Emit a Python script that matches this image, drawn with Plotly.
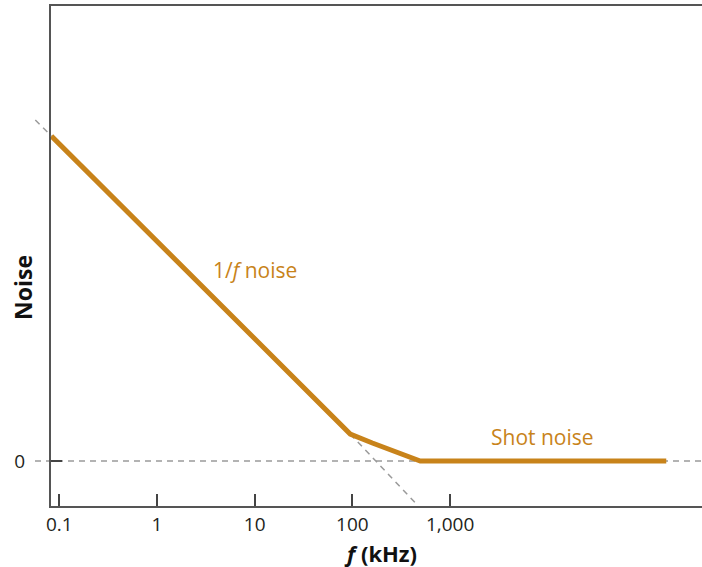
import plotly.graph_objects as go
import math

# Data
freq_khz = [0.083, 95, 160, 495, 163000]
noise = [3.25, 0.27, 0.18, 0.0, 0.0]
asym_f = [95, 472]          # 1/f asymptote continuation (dashed)
asym_y = [0.27, -0.45]
asym_left_f = [0.0568, 0.083]  # part of the 1/f asymptote left of the axis
asym_left_y = [3.41, 3.25]
tick_vals = [0.1, 1, 10, 100, 1000]
tick_text = ["0.1", "1", "10", "100", "1,000"]

XR = [-1.085, 5.578]
YR = [-0.45, 4.55]
ORANGE = "#C8831A"
GRAY = "#9a9a9a"
FONT = "Open Sans"

def px(f):
    return (math.log10(f) - XR[0]) / (XR[1] - XR[0])

def py(v):
    return (v - YR[0]) / (YR[1] - YR[0])

fig = go.Figure()

fig.add_trace(go.Scatter(x=asym_f, y=asym_y, mode="lines",
                         line=dict(color=GRAY, width=1.5, dash="6px,5px"),
                         hoverinfo="skip", showlegend=False))
fig.add_trace(go.Scatter(x=freq_khz, y=noise, mode="lines",
                         line=dict(color=ORANGE, width=5),
                         showlegend=False))

shapes = [
    dict(type="line", xref="paper", yref="paper", x0=-16/651, x1=1,
         y0=py(0), y1=py(0), layer="below",
         line=dict(color=GRAY, width=1.5, dash="6px,5px")),
    dict(type="line", xref="paper", yref="paper",
         x0=px(asym_left_f[0]), y0=py(asym_left_y[0]),
         x1=px(asym_left_f[1]), y1=py(asym_left_y[1]),
         line=dict(color=GRAY, width=1.5, dash="6px,5px")),
]

annotations = [
    dict(x=math.log10(10.1), y=1.91, xref="x", yref="y", text="1/<i>f</i> noise",
         showarrow=False, font=dict(family=FONT, size=21, color=ORANGE)),
    dict(x=math.log10(8800), y=0.24, xref="x", yref="y", text="Shot noise",
         showarrow=False, font=dict(family=FONT, size=21, color=ORANGE)),
    dict(x=-28/651, y=(506-287)/500, xref="paper", yref="paper", text="<b>Noise</b>",
         textangle=-90, showarrow=False, xanchor="center", yanchor="middle",
         font=dict(family=FONT, size=23, color="#111")),
    dict(x=(380-51)/651, y=-47/500, xref="paper", yref="paper",
         text="<b><i>f</i> (kHz)</b>", showarrow=False, xanchor="center", yanchor="middle",
         font=dict(family=FONT, size=22, color="#111")),
]

fig.update_layout(
    width=702, height=567,
    margin=dict(l=51, r=0, t=6, b=61),
    plot_bgcolor="white", paper_bgcolor="white",
    font=dict(family=FONT, size=19, color="#231F20"),
    shapes=shapes, annotations=annotations,
    showlegend=False,
)
fig.update_xaxes(type="log", range=XR, showgrid=False, zeroline=False,
                 showline=True, linecolor="#555", linewidth=2, mirror=True,
                 ticks="inside", ticklen=12, tickwidth=1.5, tickcolor="#444",
                 tickvals=tick_vals, ticktext=tick_text, ticklabelstandoff=0,
                 tickfont=dict(family=FONT, size=19, color="#231F20"))
fig.update_yaxes(range=YR, showgrid=False, zeroline=False,
                 showline=True, linecolor="#555", linewidth=2,
                 ticks="inside", ticklen=11, tickwidth=1.5, tickcolor="#444",
                 tickvals=[0], ticktext=["0"], ticklabelstandoff=20,
                 tickfont=dict(family=FONT, size=19, color="#231F20"))

fig.write_html("out.html")
